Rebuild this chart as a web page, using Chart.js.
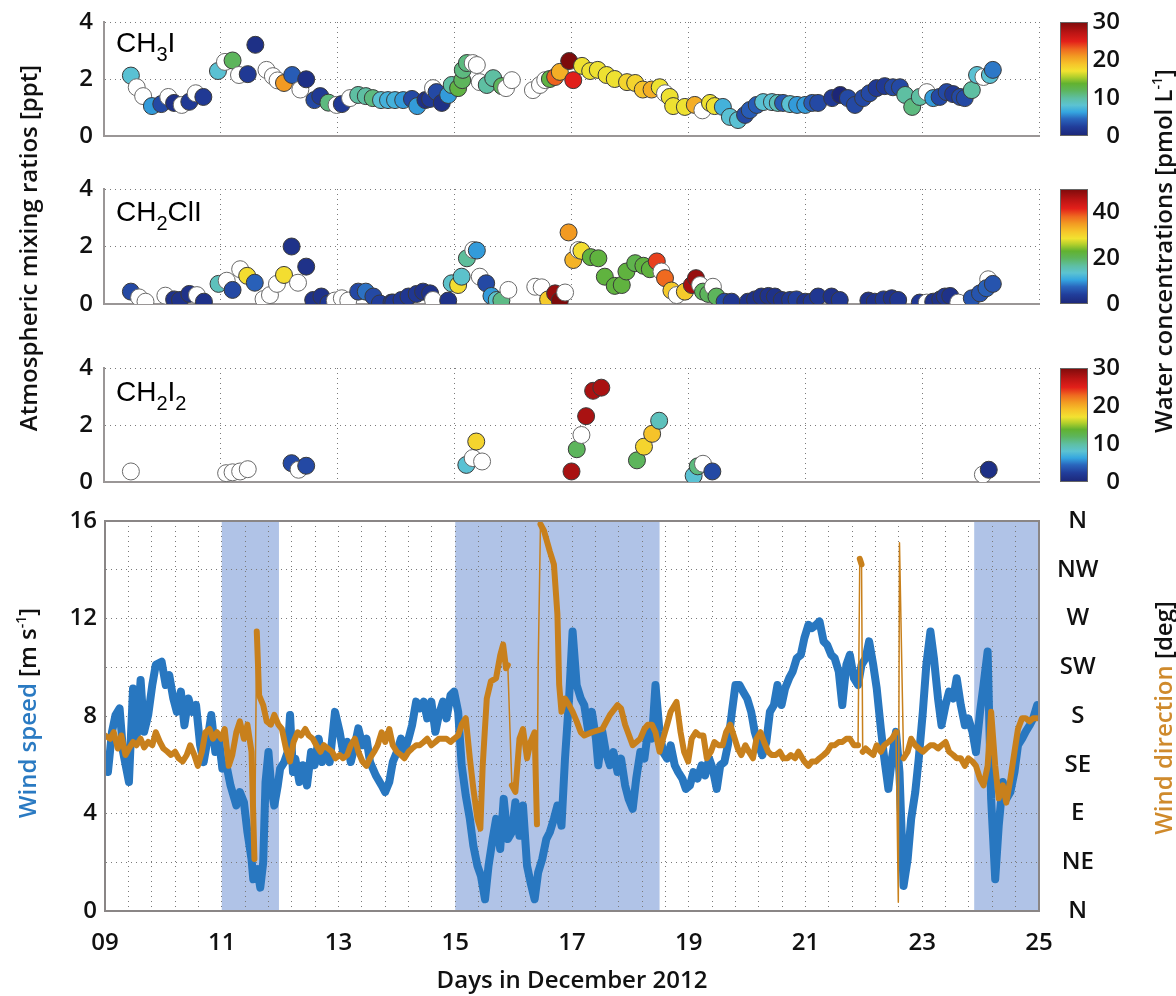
<!DOCTYPE html>
<html>
<head>
<meta charset="utf-8">
<script src="https://cdn.jsdelivr.net/npm/chart.js@4.4.1/dist/chart.umd.min.js"></script>
<style>
  body { margin: 0; background: #fff; }
  #wrap { position: relative; width: 1176px; height: 996px; overflow: hidden; font-family: "Open Sans", sans-serif; }
  .panel { position: absolute; left: 0; width: 1176px; }
  .panel canvas { display: block; }
  .rot { position: absolute; white-space: nowrap; font-size: 24px; font-weight: 600; color: #111;
         transform: translate(-50%, -50%) rotate(-90deg); }
  .rot sup { font-size: 14px; vertical-align: 10px; line-height: 0; }
  .chem { position: absolute; left: 116px; font-family: "Liberation Sans", Arial, sans-serif; font-size: 28px;
          line-height: 28px; color: #000; }
  .chem sub { font-size: 20px; vertical-align: -9px; line-height: 0; }
</style>
</head>
<body>
<div id="wrap">
  <div class="panel" style="top:0px"><canvas id="p1" width="1176" height="150"></canvas></div>
  <div class="panel" style="top:167px"><canvas id="p2" width="1176" height="151"></canvas></div>
  <div class="panel" style="top:346px"><canvas id="p3" width="1176" height="150"></canvas></div>
  <div class="panel" style="top:499px"><canvas id="p4" width="1176" height="497"></canvas></div>

  <div class="chem" style="top:29px">CH<sub>3</sub>I</div>
  <div class="chem" style="top:198px">CH<sub>2</sub>ClI</div>
  <div class="chem" style="top:378px">CH<sub>2</sub>I<sub>2</sub></div>

  <div class="rot" style="left:27px;top:248px">Atmospheric mixing ratios [ppt]</div>
  <div class="rot" style="left:1162px;top:251px">Water concentrations [pmol L<sup>-1</sup>]</div>
  <div class="rot" style="left:26px;top:713px"><span style="color:#2a7ac2">Wind speed</span> [m s<sup>-1</sup>]</div>
  <div class="rot" style="left:1162px;top:718px"><span style="color:#cf8a2c">Wind direction</span> [deg]</div>
</div>
<script>
// ---- CH3I: day in Dec, air (ppt), water (pmol/L, null = open circle)
const ch3iDay = [9.46,9.56,9.67,9.82,9.98,10.10,10.20,10.33,10.46,10.57,
  10.70,10.95,11.07,11.20,11.31,11.46,11.59,11.78,11.89,11.97,
  12.08,12.22,12.36,12.46,12.60,12.70,12.84,12.98,13.07,13.21,
  13.35,13.48,13.60,13.74,13.86,13.98,14.12,14.27,14.36,14.50,
  14.58,14.63,14.69,14.78,14.89,14.95,15.06,15.13,15.14,15.21,
  15.31,15.38,15.43,15.55,15.66,15.81,15.88,15.98,16.34,16.46,
  16.55,16.63,16.72,16.80,16.96,17.03,17.18,17.32,17.45,17.60,
  17.74,17.95,18.09,18.22,18.37,18.51,18.60,18.68,18.74,18.94,
  19.11,19.24,19.37,19.45,19.59,19.71,19.85,19.97,20.05,20.17,
  20.28,20.43,20.53,20.62,20.74,20.86,21.00,21.12,21.22,21.46,
  21.60,21.73,21.85,21.99,22.10,22.22,22.36,22.50,22.62,22.71,
  22.83,22.96,23.08,23.19,23.30,23.42,23.53,23.65,23.73,23.85,
  23.94,24.05,24.16,24.21];
const ch3iPpt = [2.12,1.71,1.40,1.05,1.12,1.37,1.16,1.09,1.20,1.50,
  1.37,2.28,2.60,2.65,2.14,2.17,3.20,2.32,2.10,1.95,
  1.86,2.14,1.63,1.99,1.26,1.40,1.17,1.09,1.12,1.33,
  1.44,1.40,1.33,1.26,1.26,1.26,1.26,1.30,1.05,1.26,
  1.30,1.68,1.54,1.16,1.44,1.79,1.68,1.96,2.32,2.56,
  2.56,2.49,1.89,1.79,2.03,1.75,1.68,1.96,1.61,1.79,
  1.96,2.00,2.07,2.25,2.63,1.96,2.46,2.28,2.32,2.14,
  2.00,1.89,1.86,1.63,1.63,1.71,1.50,1.37,1.05,1.02,
  1.09,0.90,1.16,1.05,1.02,0.67,0.56,0.74,0.91,1.09,
  1.19,1.19,1.16,1.16,1.12,1.09,1.09,1.16,1.16,1.33,
  1.44,1.33,1.09,1.33,1.50,1.68,1.75,1.71,1.71,1.44,
  1.02,1.37,1.54,1.33,1.37,1.54,1.47,1.37,1.33,1.61,
  2.14,2.07,2.14,2.32];
const ch3iWater = [8,null,null,6,3,null,1,null,2,null,
  2,8,null,12,null,2,1,null,null,null,
  21,4,null,1,3,2,11,null,2,null,
  10,10,11,8,7,7,6,3,6,1,
  2,null,3,1,6,10,13,12,11,11,
  null,null,null,10,10,12,null,null,null,null,
  null,13,23,20,30,25,17,17,17,17,
  17,18,18,19,20,17,null,17,17,17,
  20,null,17,17,7,8,8,3,4,4,
  8,8,9,4,8,6,6,4,3,2,
  0,3,3,3,3,2,2,3,3,10,
  11,10,null,6,3,3,2,3,3,10,
  8,null,8,5];

// ---- CH2ClI
const ch2cliDay = [9.46,9.60,9.71,10.05,10.20,10.30,10.46,10.59,10.71,10.96,
  11.10,11.20,11.33,11.45,11.58,11.73,11.84,11.96,12.08,12.21,
  12.32,12.46,12.58,12.72,12.84,12.95,13.07,13.18,13.35,13.48,
  13.61,13.72,13.92,13.95,14.09,14.21,14.35,14.46,14.58,14.63,
  14.89,14.95,15.06,15.12,15.21,15.32,15.38,15.43,15.54,15.63,
  15.72,15.80,15.92,16.38,16.49,16.60,16.72,16.80,16.89,16.95,
  17.03,17.12,17.17,17.33,17.46,17.57,17.74,17.86,17.94,18.09,
  18.23,18.34,18.46,18.54,18.60,18.71,18.80,18.94,19.06,19.13,
  19.20,19.25,19.34,19.42,19.48,19.62,19.74,20.02,20.14,20.25,
  20.37,20.48,20.60,20.74,20.85,21.00,21.11,21.22,21.45,21.59,
  22.08,22.19,22.34,22.48,22.59,22.96,23.08,23.19,23.31,23.39,
  23.48,23.62,23.85,23.99,24.13,24.10,24.21];
const ch2cliPpt = [0.43,0.23,0.08,0.29,0.16,0.14,0.35,0.31,0.08,0.70,
  0.81,0.49,1.21,0.98,0.74,0.17,0.31,0.70,1.01,2.00,
  0.74,1.30,0.14,0.26,0.02,0.12,0.20,0.12,0.43,0.43,
  0.26,0.02,0.05,0.05,0.14,0.26,0.35,0.43,0.37,0.14,
  0.12,0.72,0.66,0.95,1.59,1.88,1.86,0.95,0.72,0.28,
  0.14,0.12,0.49,0.60,0.58,0.16,0.37,0.12,0.40,2.49,
  1.53,1.88,1.85,1.63,1.59,0.95,0.63,0.66,1.13,1.42,
  1.33,1.21,1.48,1.13,0.90,0.47,0.31,0.43,0.66,0.90,
  0.66,0.43,0.35,0.60,0.26,0.08,0.08,0.08,0.16,0.26,
  0.28,0.26,0.14,0.14,0.16,0.08,0.08,0.26,0.26,0.14,
  0.12,0.08,0.16,0.20,0.14,0.05,0.05,0.08,0.16,0.26,
  0.28,0.05,0.20,0.37,0.86,0.55,0.70];
const ch2cliWater = [5,null,null,null,2,2,2,null,2,15,
  null,5,null,29,7,null,null,null,29,2,
  null,2,2,2,3,null,null,null,5,8,
  5,4,3,3,3,3,3,2,2,null,
  2,14,29,14,17,null,10,null,5,10,
  14,18,null,null,null,31,48,50,null,35,
  33,null,29,22,22,22,22,22,22,21,
  22,22,40,null,38,31,null,31,47,48,
  null,20,20,null,20,5,3,2,2,2,
  2,2,2,3,4,2,3,3,2,3,
  2,2,3,2,3,3,null,2,2,3,
  2,null,6,6,null,7,6];

// ---- CH2I2
const ch2i2Day = [9.46,11.09,11.20,11.33,11.46,12.21,12.33,12.46,15.20,15.31,15.47,15.37,
  17.00,17.09,17.17,17.25,17.37,17.51,18.12,18.24,18.38,18.50,19.09,19.16,19.25,19.41,24.04,24.14];
const ch2i2Ppt = [0.37,0.31,0.34,0.37,0.45,0.66,0.43,0.57,0.60,0.84,0.72,1.42,
  0.37,1.15,1.65,2.31,3.20,3.31,0.76,1.24,1.69,2.15,0.22,0.55,0.64,0.37,0.26,0.43];
const ch2i2Water = [null,null,null,null,null,3,null,3,8,null,null,18,
  28,12,null,28,28,28,12,18,19,9,8,11,null,3,null,1];

// ---- wind speed (m/s)
const windDay = [9.00,9.05,9.12,9.18,9.25,9.31,9.41,9.48,9.54,9.61,
  9.67,9.74,9.81,9.87,9.97,10.04,10.10,10.17,10.23,10.30,
  10.36,10.43,10.49,10.56,10.63,10.69,10.76,10.82,10.89,10.95,
  11.01,11.08,11.15,11.25,11.31,11.38,11.44,11.51,11.54,11.61,
  11.66,11.71,11.75,11.80,11.85,11.90,11.96,12.00,12.07,12.13,
  12.17,12.22,12.26,12.33,12.39,12.46,12.53,12.59,12.66,12.72,
  12.79,12.85,12.94,13.02,13.08,13.15,13.21,13.28,13.34,13.41,
  13.48,13.54,13.64,13.74,13.80,13.87,13.93,14.00,14.07,14.13,
  14.20,14.26,14.33,14.39,14.46,14.52,14.59,14.66,14.72,14.79,
  14.85,14.92,14.98,15.05,15.11,15.18,15.25,15.31,15.38,15.44,
  15.51,15.57,15.64,15.70,15.77,15.83,15.90,15.97,16.03,16.10,
  16.16,16.23,16.29,16.36,16.42,16.49,16.56,16.62,16.69,16.75,
  16.82,16.88,16.95,17.01,17.08,17.15,17.21,17.28,17.34,17.41,
  17.45,17.52,17.58,17.65,17.71,17.78,17.84,17.91,17.97,18.04,
  18.10,18.17,18.24,18.30,18.37,18.43,18.50,18.56,18.63,18.69,
  18.76,18.82,18.89,18.95,19.02,19.08,19.15,19.22,19.28,19.35,
  19.41,19.48,19.54,19.61,19.67,19.74,19.80,19.87,19.93,20.00,
  20.07,20.13,20.20,20.26,20.33,20.39,20.46,20.52,20.59,20.65,
  20.72,20.78,20.85,20.92,20.98,21.05,21.11,21.18,21.24,21.31,
  21.37,21.44,21.50,21.57,21.63,21.70,21.76,21.83,21.90,21.96,
  22.03,22.09,22.16,22.22,22.29,22.35,22.42,22.48,22.55,22.61,
  22.68,22.75,22.81,22.88,22.94,23.01,23.07,23.14,23.20,23.27,
  23.33,23.40,23.46,23.53,23.59,23.66,23.73,23.79,23.86,23.92,
  23.99,24.05,24.12,24.18,24.25,24.31,24.38,24.44,24.51,24.58,
  24.64,24.71,24.77,24.84,24.90,24.97];
const windSpeed = [6.39,5.70,7.35,8.04,8.31,6.52,5.29,9.13,7.07,9.48,
  7.35,8.04,9.27,10.10,10.23,9.27,9.68,8.72,8.17,9.00,
  7.62,8.72,8.17,8.45,6.80,6.11,7.07,8.04,6.52,7.07,
  5.84,5.98,5.15,4.33,4.88,4.46,3.23,2.13,1.30,1.72,
  0.96,1.99,5.29,6.52,5.01,4.33,5.15,5.84,6.11,6.52,
  8.04,5.70,6.25,5.29,5.98,5.15,6.52,5.98,7.07,6.11,
  6.52,6.11,8.17,7.35,6.52,6.94,6.11,6.80,7.49,6.80,
  7.07,6.11,5.56,5.15,4.88,5.29,6.11,6.52,7.07,6.52,
  7.07,7.62,8.59,8.31,8.59,7.90,8.59,7.35,8.04,8.59,
  7.90,8.86,9.00,8.17,5.98,4.74,3.78,2.68,1.85,1.44,
  0.48,1.85,2.95,3.78,2.54,4.60,2.95,3.23,4.46,3.09,
  4.33,1.85,1.17,0.48,1.58,2.13,2.95,3.23,3.78,4.33,
  3.50,6.25,8.72,11.47,9.27,8.72,8.45,7.35,8.17,7.07,
  5.98,7.35,6.52,5.98,6.52,5.70,6.25,5.15,4.60,4.19,
  5.43,6.52,6.25,7.35,7.07,9.27,7.35,6.52,6.25,6.80,
  5.98,5.70,5.43,5.01,5.15,5.70,5.43,5.98,5.56,6.25,
  5.84,5.01,5.98,6.11,6.80,8.17,9.27,9.27,9.00,8.72,
  8.17,7.35,6.80,6.39,6.94,8.17,8.45,9.27,8.45,9.13,
  9.55,9.82,10.37,10.51,11.19,11.74,11.61,11.74,11.88,11.06,
  10.92,10.51,10.37,9.82,8.45,10.10,10.51,9.55,9.27,10.10,
  10.37,11.06,10.10,9.13,7.49,6.25,5.01,6.25,7.35,5.70,
  1.03,2.13,3.78,4.88,6.25,8.17,10.10,11.47,10.37,8.72,
  7.62,8.45,9.00,8.72,9.55,8.45,7.62,7.90,7.35,6.52,
  8.17,9.27,10.65,4.60,1.30,3.50,5.29,4.60,4.88,5.70,
  6.80,7.07,7.35,7.62,7.90,8.45];

// ---- wind direction (deg)
const dirDay = [9.00,9.09,9.15,9.22,9.28,9.35,9.41,9.48,9.54,9.61,
  9.67,9.74,9.81,9.87,9.94,10.00,10.07,10.13,10.20,10.26,
  10.33,10.40,10.46,10.53,10.59,10.66,10.72,10.79,10.85,10.92,
  10.99,11.05,11.12,11.18,11.25,11.31,11.38,11.44,11.51,11.56,
  11.60,11.64,11.71,11.77,11.84,11.90,11.97,12.03,12.10,12.17,
  12.23,12.30,12.36,12.43,12.49,12.56,12.62,12.69,12.75,12.82,
  12.89,12.95,13.02,13.08,13.15,13.21,13.28,13.34,13.41,13.48,
  13.54,13.61,13.67,13.74,13.80,13.87,13.93,14.00,14.07,14.13,
  14.20,14.26,14.33,14.39,14.46,14.52,14.59,14.66,14.72,14.79,
  14.85,14.92,14.98,15.05,15.11,15.18,15.25,15.31,15.38,15.43,
  15.47,15.54,15.61,15.70,15.77,15.82,15.87,15.90,15.97,16.03,
  16.10,16.16,16.23,16.29,16.36,16.40,16.42,16.46,16.52,16.62,
  16.69,16.75,16.78,16.82,16.88,16.95,17.01,17.08,17.15,17.21,
  17.34,
  17.52,17.65,17.78,17.84,17.91,18.04,18.17,18.24,18.30,18.37,
  18.43,18.50,18.56,18.63,18.69,18.79,18.86,18.92,18.99,19.05,
  19.12,19.18,19.25,19.31,19.38,19.44,19.51,19.58,19.64,19.71,
  19.77,19.84,19.90,19.97,20.03,20.10,20.16,20.23,20.29,20.36,
  20.42,20.49,20.56,20.62,20.69,20.75,20.82,20.88,20.98,21.05,
  21.11,21.18,21.24,21.31,21.37,21.44,21.50,21.57,21.63,21.70,
  21.76,21.83,21.90,21.93,21.96,21.98,22.03,22.09,22.16,22.22,
  22.29,22.35,22.42,22.48,22.55,22.59,22.61,22.68,22.75,22.81,
  22.88,22.94,23.01,23.07,23.14,23.20,23.27,23.33,23.40,23.46,
  23.53,23.59,23.66,23.73,23.79,23.86,23.92,23.99,24.05,24.12,
  24.18,24.25,24.31,24.38,24.44,24.51,24.58,24.64,24.71,24.77,
  24.84,24.90,24.97];
const dirDeg = [162,159,165,150,162,144,150,156,153,159,
  151,156,153,165,156,150,147,144,147,141,
  138,144,153,144,134,147,165,168,159,165,
  159,168,134,144,165,175,159,172,147,48,
  258,199,190,175,172,181,172,168,150,138,
  156,165,162,168,162,159,153,147,153,150,
  147,141,144,141,144,153,159,147,138,134,
  141,147,153,165,156,168,153,147,144,141,
  147,150,153,153,156,159,153,156,159,159,
  159,156,159,162,172,178,141,113,85,76,
  134,196,212,215,236,246,224,227,116,110,
  159,168,141,156,165,80,224,357,351,332,
  320,274,209,184,196,190,184,175,165,162,
  165,
  168,181,190,187,172,153,159,168,172,172,
  165,147,159,172,184,193,165,147,138,159,
  165,162,162,141,147,156,153,153,165,172,
  162,150,144,153,147,141,159,165,156,147,
  144,144,147,141,141,144,141,147,138,134,
  138,138,141,144,147,153,153,156,156,159,
  159,153,153,325,320,147,150,147,144,153,
  147,153,156,159,165,8,340,141,147,159,
  153,150,147,150,153,153,150,153,156,147,
  144,141,141,134,141,138,134,122,116,134,
  184,134,104,116,100,122,147,168,178,178,
  175,178,178];

// shaded periods (days)
const shadeFrom = [11.0, 15.0, 23.89];
const shadeTo = [11.98, 18.5, 25.0];

const dayTicks = [9, 11, 13, 15, 17, 19, 21, 23, 25];
const dirTicks = [0, 45, 90, 135, 180, 225, 270, 315, 360];
const dirLabels = ['N', 'NE', 'E', 'SE', 'S', 'SW', 'W', 'NW', 'N'];

// colormap for water concentrations (fraction -> rgb)
const jetStops = [
  [0.00, [28, 38, 119]], [0.08, [33, 61, 154]], [0.15, [42, 102, 189]], [0.21, [53, 166, 224]],
  [0.27, [92, 195, 210]], [0.33, [94, 191, 165]], [0.40, [93, 181, 92]], [0.46, [98, 178, 48]],
  [0.52, [181, 208, 44]], [0.57, [242, 226, 49]], [0.63, [246, 197, 42]], [0.70, [242, 154, 34]],
  [0.76, [239, 106, 32]], [0.83, [227, 32, 26]], [0.91, [185, 20, 20]], [1.00, [124, 11, 11]]
];
function cmap(f) {
  f = Math.max(0, Math.min(1, f));
  for (let i = 1; i < jetStops.length; i++) {
    if (f <= jetStops[i][0]) {
      const [f0, c0] = jetStops[i - 1], [f1, c1] = jetStops[i];
      const t = (f - f0) / (f1 - f0);
      return 'rgb(' + c0.map((c, k) => Math.round(c + (c1[k] - c) * t)).join(',') + ')';
    }
  }
  return 'rgb(124,11,11)';
}

Chart.defaults.font.family = '"Open Sans", sans-serif';
Chart.defaults.color = '#111';
const tickFont = { size: 24, weight: '600' };
const gridOpts = { color: '#7a7a7a', lineWidth: 1, drawTicks: false };
const dotBorder = { color: '#9a9696', width: 2, dash: [1, 4] };

// fixed axis width; label padding must not push the plot area down
const fixW = w => s => { s.width = w; s.paddingTop = 0; s.paddingBottom = 0; };

// colour bar drawn right of the plot area
const colorbar = {
  id: 'colorbar',
  afterDraw(chart) {
    const a = chart.chartArea, ctx = chart.ctx;
    const g = ctx.createLinearGradient(0, a.bottom, 0, a.top);
    jetStops.forEach(s => g.addColorStop(s[0], 'rgb(' + s[1].join(',') + ')'));
    ctx.save();
    ctx.fillStyle = g;
    ctx.fillRect(a.right + 21, a.top, 28, a.bottom - a.top);
    ctx.strokeStyle = '#666';
    ctx.lineWidth = 1;
    ctx.strokeRect(a.right + 21.5, a.top + 0.5, 27, a.bottom - a.top - 1);
    ctx.restore();
  }
};

function panel(id, days, ppt, water, wMax, wTicks) {
  new Chart(document.getElementById(id), {
    type: 'scatter',
    data: {
      datasets: [{
        data: days.map((d, i) => ({ x: d, y: ppt[i] })),
        pointRadius: 8.5,
        pointBorderWidth: 1,
        pointBackgroundColor: c => water[c.dataIndex] == null ? '#ffffff' : cmap(water[c.dataIndex] / wMax),
        pointBorderColor: c => water[c.dataIndex] == null ? '#6a6a6a' : '#3a3a3a'
      }]
    },
    options: {
      responsive: false,
      animation: false,
      events: [],
      layout: { padding: { top: 22, bottom: 0, left: 0, right: 56 } },
      plugins: { legend: { display: false }, tooltip: { enabled: false } },
      scales: {
        x: {
          type: 'linear', min: 9, max: 25,
          afterBuildTicks: s => { s.ticks = dayTicks.map(v => ({ value: v })); },
          ticks: { display: false },
          grid: gridOpts,
          border: dotBorder,
          afterFit: s => { s.height = 14; }
        },
        y: {
          min: 0, max: 4,
          ticks: { stepSize: 1, font: tickFont, padding: 11, callback: v => v % 2 === 0 ? v : '' },
          grid: gridOpts,
          border: dotBorder,
          afterFit: fixW(104)
        },
        cb: {
          position: 'right', min: 0, max: wMax,
          afterBuildTicks: s => { s.ticks = wTicks.map(v => ({ value: v })); },
          ticks: { font: tickFont, crossAlign: 'far', padding: 4 },
          grid: { display: false, drawTicks: false },
          border: { display: false },
          afterFit: fixW(81)
        }
      }
    },
    plugins: [colorbar]
  });
}

panel('p1', ch3iDay, ch3iPpt, ch3iWater, 30, [0, 10, 20, 30]);
panel('p2', ch2cliDay, ch2cliPpt, ch2cliWater, 50, [0, 20, 40]);
panel('p3', ch2i2Day, ch2i2Ppt, ch2i2Water, 30, [0, 10, 20, 30]);

// shaded periods behind the grid, and a frame round the wind panel
const shading = {
  id: 'shading',
  beforeDraw(chart) {
    const a = chart.chartArea, x = chart.scales.x, ctx = chart.ctx;
    ctx.save();
    ctx.fillStyle = '#b0c3e7';
    shadeFrom.forEach((s, i) => {
      const x0 = x.getPixelForValue(s), x1 = x.getPixelForValue(shadeTo[i]);
      ctx.fillRect(x0, a.top, x1 - x0, a.bottom - a.top);
    });
    ctx.restore();
  },
  afterDraw(chart) {
    const a = chart.chartArea, ctx = chart.ctx;
    ctx.save();
    ctx.strokeStyle = '#8a8686';
    ctx.lineWidth = 2;
    ctx.strokeRect(a.left, a.top, a.right - a.left, a.bottom - a.top);
    ctx.restore();
  }
};

const windGrid = Array.from({ length: 41 }, (_, k) => (90 + 4 * k) / 10);

new Chart(document.getElementById('p4'), {
  type: 'line',
  data: {
    datasets: [{
      label: 'Wind direction',
      data: dirDay.map((d, i) => ({ x: d, y: dirDeg[i] })),
      yAxisID: 'dir',
      borderColor: '#c8801c',
      borderWidth: 6,
      borderJoinStyle: 'round',
      borderCapStyle: 'round',
      pointRadius: 0,
      segment: { borderWidth: c => Math.abs(c.p1.parsed.y - c.p0.parsed.y) > 100 ? 1.5 : 6 },
      order: 0
    }, {
      label: 'Wind speed',
      data: windDay.map((d, i) => ({ x: d, y: windSpeed[i] })),
      yAxisID: 'y',
      borderColor: '#2877c0',
      borderWidth: 8,
      borderJoinStyle: 'round',
      borderCapStyle: 'round',
      pointRadius: 0,
      order: 1
    }]
  },
  options: {
    responsive: false,
    animation: false,
    events: [],
    layout: { padding: { top: 22, bottom: 0, left: 0, right: 0 } },
    plugins: { legend: { display: false }, tooltip: { enabled: false } },
    scales: {
      x: {
        type: 'linear', min: 9, max: 25,
        afterBuildTicks: s => { s.ticks = windGrid.map(v => ({ value: v })); },
        ticks: {
          autoSkip: false, maxRotation: 0, font: tickFont, padding: 18,
          callback: v => Number.isInteger(v) ? String(v).padStart(2, '0') : ''
        },
        grid: gridOpts,
        border: dotBorder,
        title: { display: true, text: 'Days in December 2012', font: { size: 24, weight: '600' }, padding: { top: 0, bottom: 0 } },
        afterFit: s => { s.height = 85; }
      },
      y: {
        min: 0, max: 16,
        ticks: { stepSize: 1, font: tickFont, padding: 8, callback: v => v % 4 === 0 ? v : '' },
        grid: gridOpts,
        border: dotBorder,
        afterFit: fixW(105)
      },
      dir: {
        position: 'right', min: 0, max: 360,
        afterBuildTicks: s => { s.ticks = dirTicks.map(v => ({ value: v })); },
        ticks: { font: tickFont, crossAlign: 'center', padding: 18, callback: (v, i) => dirLabels[i] },
        grid: { display: false, drawTicks: false },
        border: { color: '#8a8686', width: 2 },
        afterFit: fixW(137)
      }
    }
  },
  plugins: [shading]
});
</script>
</body>
</html>
